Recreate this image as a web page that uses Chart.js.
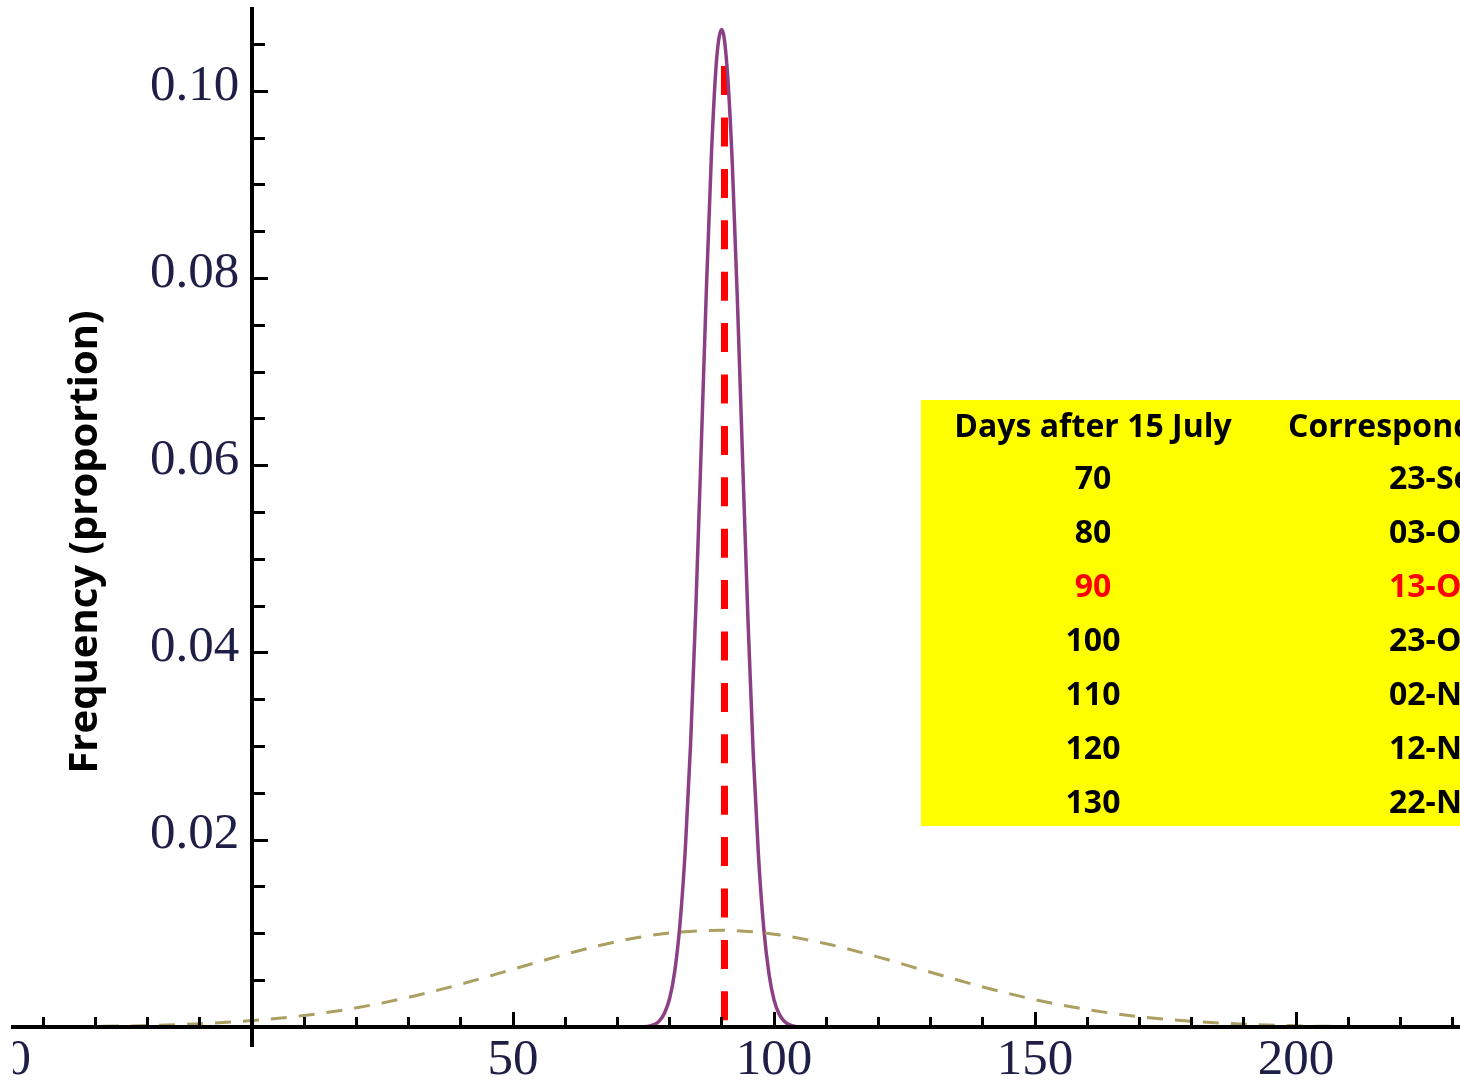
<!DOCTYPE html>
<html>
<head>
<meta charset="utf-8">
<script src="https://cdn.jsdelivr.net/npm/chart.js@4.4.1/dist/chart.umd.min.js"></script>
<style>
  html, body { margin: 0; padding: 0; background: #ffffff; }
  #wrap { position: relative; width: 1460px; height: 1087px; overflow: hidden; }
  canvas { display: block; }
</style>
</head>
<body>
<div id="wrap"><canvas id="c" width="1460" height="1087"></canvas></div>
<script>
// ---------- data ----------
// narrow (purple, solid) distribution
const narrowX = [60, 72, 74, 76, 77, 78, 79, 80, 81, 82, 83, 84, 85, 86, 87, 88, 89, 90,
                 91, 92, 93, 94, 95, 96, 97, 98, 99, 100, 101, 102, 103, 104, 106, 120];
const narrowY = [0, 0, 0.000013, 0.000105, 0.00028, 0.00066, 0.0015, 0.0031, 0.0061, 0.0112,
                 0.0191, 0.0302, 0.0446, 0.0612, 0.0783, 0.0933, 0.1035, 0.1066,
                 0.1025, 0.0922, 0.0772, 0.0601, 0.0435, 0.0293, 0.0184, 0.0107, 0.0058,
                 0.0029, 0.00138, 0.00061, 0.00025, 0.000095, 0, 0];
// wide (khaki, dashed) distribution
const wideX = [-50, -40, -30, -20, -10, 0, 10, 20, 30, 40, 50, 60, 70, 80, 90, 100, 110, 120,
               130, 140, 150, 160, 170, 180, 190, 200, 210, 220, 230, 240];
const wideY = [0.000015, 0.000038, 0.000087, 0.000188, 0.00038, 0.000716, 0.001262, 0.002079,
               0.003202, 0.004609, 0.006202, 0.007801, 0.009172, 0.01008, 0.01036, 0.009946,
               0.008928, 0.007492, 0.005876, 0.004309, 0.002953, 0.001892, 0.001133, 0.000634,
               0.000332, 0.000162, 0.000074, 0.000032, 0.000013, 0.000005];
// red dashed marker at day 90
const markerX = [90.5, 90.5];
const markerY = [0.1027, 0];

// axes
const xRange = [-45.8, 231.4];
const yRange = [-0.002, 0.1088];
const xMajorTicks = [50, 100, 150, 200];
const xMinorTicks = [-40, -30, -20, -10, 10, 20, 30, 40, 60, 70, 80, 90, 110, 120, 130, 140,
                     160, 170, 180, 190, 210, 220, 230];
const xCutLabelValue = -50;
const xCutLabelText = '\u221250';
const yMajorTicks = [0.02, 0.04, 0.06, 0.08, 0.10];
const yMinorTicks = [0.005, 0.01, 0.015, 0.025, 0.03, 0.035, 0.045, 0.05, 0.055, 0.065, 0.07,
                     0.075, 0.085, 0.09, 0.095, 0.105];
const yAxisTitle = 'Frequency (proportion)';

// inset table
const tableHeaders = ['Days after 15 July', 'Corresponding date'];
const tableDays = ['70', '80', '90', '100', '110', '120', '130'];
const tableDates = ['23-Sep', '03-Oct', '13-Oct', '23-Oct', '02-Nov', '12-Nov', '22-Nov'];
const highlightRow = 2;

// ---------- drawing ----------
const tickFontFamily = '"Liberation Serif", "Times New Roman", serif';
const tickColor = '#1e1e46';
const xLabelPad = 20;
const xMajorLen = -17;

const pts = (xs, ys) => xs.map((x, i) => ({ x: x, y: ys[i] }));

const decor = {
  id: 'decor',
  afterDraw(chart) {
    const ctx = chart.ctx;
    const xs = chart.scales.x, ys = chart.scales.y;
    const area = chart.chartArea;
    ctx.save();
    // partly visible tick label at the left edge (clipped like the plot region)
    ctx.save();
    ctx.beginPath();
    ctx.rect(area.left, 0, chart.width - area.left, chart.height);
    ctx.clip();
    ctx.font = '51px ' + tickFontFamily;
    ctx.fillStyle = tickColor;
    ctx.textAlign = 'center';
    ctx.textBaseline = 'middle';
    const ly = ys.getPixelForValue(0) + xMajorLen + xLabelPad + 51 * 1.2 / 2;
    ctx.fillText(xCutLabelText, xs.getPixelForValue(xCutLabelValue), ly);
    ctx.restore();

    // y-axis title (rotated, bottom-to-top)
    ctx.save();
    ctx.translate(97, 542);
    ctx.rotate(-Math.PI / 2);
    ctx.font = 'bold 40px "Open Sans"';
    ctx.fillStyle = '#000';
    ctx.textAlign = 'center';
    ctx.textBaseline = 'alphabetic';
    ctx.fillText(yAxisTitle, 0, 0);
    ctx.restore();

    // inset table
    ctx.fillStyle = '#ffff00';
    ctx.fillRect(921, 400, 560, 426);
    ctx.font = 'bold 32px "Open Sans"';
    ctx.textBaseline = 'alphabetic';
    ctx.fillStyle = '#000';
    ctx.textAlign = 'center';
    ctx.fillText(tableHeaders[0], 1093, 437);
    ctx.textAlign = 'left';
    ctx.fillText(tableHeaders[1], 1288, 437);
    for (let i = 0; i < tableDays.length; i++) {
      const by = 489 + i * 54;
      ctx.fillStyle = i === highlightRow ? '#ff0000' : '#000';
      ctx.textAlign = 'center';
      ctx.fillText(tableDays[i], 1093, by);
      ctx.textAlign = 'left';
      ctx.fillText(tableDates[i], 1389, by);
    }
    ctx.restore();
  }
};

function build() {
  const ctx = document.getElementById('c').getContext('2d');
  new Chart(ctx, {
    type: 'line',
    data: {
      datasets: [
        { data: pts(wideX, wideY), borderColor: '#ac9f62', borderWidth: 3,
          borderDash: [16, 12], pointRadius: 0, cubicInterpolationMode: 'monotone', fill: false },
        { data: pts(narrowX, narrowY), borderColor: '#8c3f84', borderWidth: 3.5,
          pointRadius: 0, cubicInterpolationMode: 'monotone', fill: false },
        { data: pts(markerX, markerY), borderColor: '#ff0000', borderWidth: 7,
          borderDash: [29, 22.4], borderCapStyle: 'butt', pointRadius: 0, tension: 0, fill: false }
      ]
    },
    options: {
      responsive: false,
      animation: false,
      devicePixelRatio: 1,
      layout: { padding: { left: 13, top: 9, right: 0, bottom: 41 } },
      plugins: { legend: { display: false }, tooltip: { enabled: false } },
      scales: {
        x: {
          type: 'linear', min: xRange[0], max: xRange[1], position: { y: 0 },
          afterBuildTicks: s => { s.ticks = xMajorTicks.map(v => ({ value: v })); },
          grid: { z: 1, drawOnChartArea: false, drawTicks: true, tickLength: xMajorLen, tickWidth: 3, tickColor: '#000' },
          border: { z: 1, display: true, color: '#000', width: 4 },
          ticks: { autoSkip: false, maxRotation: 0, padding: xLabelPad, color: tickColor,
                   font: { family: tickFontFamily, size: 51 }, callback: v => String(v) }
        },
        xMinor: {
          type: 'linear', axis: 'x', min: xRange[0], max: xRange[1], position: { y: 0 },
          afterBuildTicks: s => { s.ticks = xMinorTicks.map(v => ({ value: v })); },
          grid: { z: 1, drawOnChartArea: false, drawTicks: true, tickLength: -10, tickWidth: 3, tickColor: '#000' },
          border: { display: false },
          ticks: { display: false }
        },
        y: {
          type: 'linear', min: yRange[0], max: yRange[1], position: { x: 0 },
          afterBuildTicks: s => { s.ticks = yMajorTicks.map(v => ({ value: v })); },
          grid: { z: 1, drawOnChartArea: false, drawTicks: true, tickLength: -18, tickWidth: 3, tickColor: '#000' },
          border: { z: 1, display: true, color: '#000', width: 4 },
          ticks: { autoSkip: false, labelOffset: -5, color: tickColor,
                   font: { family: tickFontFamily, size: 51, lineHeight: 0.02 },
                   callback: v => v.toFixed(2) + ' ' }
        },
        yMinor: {
          type: 'linear', axis: 'y', min: yRange[0], max: yRange[1], position: { x: 0 },
          afterBuildTicks: s => { s.ticks = yMinorTicks.map(v => ({ value: v })); },
          grid: { z: 1, drawOnChartArea: false, drawTicks: true, tickLength: -13, tickWidth: 3, tickColor: '#000' },
          border: { display: false },
          ticks: { display: false }
        }
      }
    },
    plugins: [decor]
  });
}

const fontLoads = ['bold 40px "Open Sans"', 'bold 32px "Open Sans"', '51px "Liberation Serif"'];
if (document.fonts && document.fonts.load) {
  Promise.all(fontLoads.map(f => document.fonts.load(f))).then(build, build);
} else {
  build();
}
</script>
</body>
</html>
